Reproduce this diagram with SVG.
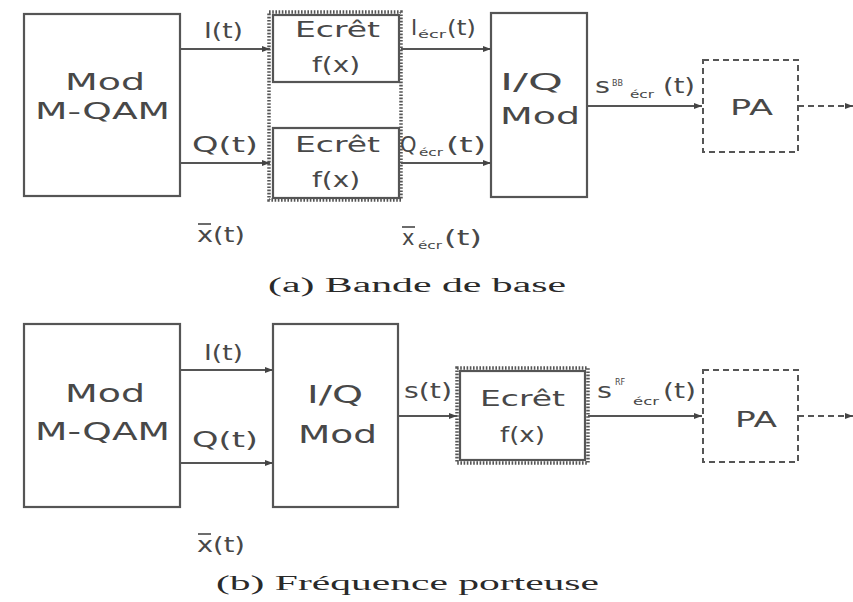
<svg xmlns="http://www.w3.org/2000/svg" width="853" height="602" viewBox="0 0 853 602">
<defs>
<marker id="ah" markerWidth="8" markerHeight="6" refX="8" refY="3" orient="auto" markerUnits="userSpaceOnUse">
<path d="M0,0 L8,3 L0,6 Z" fill="#444"/>
</marker>
<style>
.box{fill:#fff;stroke:#555;stroke-width:2.2}
.dot{fill:none;stroke:#555;stroke-width:3.5;stroke-dasharray:1.6 1.6}
.dash{fill:#fff;stroke:#555;stroke-width:2;stroke-dasharray:6 4}
.ln{fill:none;stroke:#555;stroke-width:1.8}
.dl{fill:none;stroke:#555;stroke-width:1.8;stroke-dasharray:6 4}
.t{font-family:"DejaVu Sans",sans-serif;fill:#484848}
.big{font-size:25px}
.tb{font-size:23.5px}
.mid{font-size:21px}
.lab{font-size:21px}
.sm{font-size:10px}
.cap{font-family:"Liberation Serif",serif;font-size:20px;fill:#2a2a2a}
</style>
</defs>
<rect width="853" height="602" fill="#fff"/>

<!-- (a) -->
<g id="a-mod">
<rect class="box" x="24" y="14" width="156" height="182"/>
<text class="t tb" x="65" y="90" textLength="80" lengthAdjust="spacingAndGlyphs">Mod</text>
<text class="t tb" x="35" y="119" textLength="135" lengthAdjust="spacingAndGlyphs">M-QAM</text>
</g>
<g id="a-ecret">
<rect class="dot" x="269" y="12" width="132" height="188"/>
<rect class="box" x="273" y="15" width="126" height="67"/>
<rect class="box" x="273" y="128" width="126" height="70"/>
<text class="t mid" x="295" y="37" textLength="85" lengthAdjust="spacingAndGlyphs">Ecrêt</text>
<text class="t mid" x="312" y="72" textLength="48" lengthAdjust="spacingAndGlyphs">f(x)</text>
<text class="t mid" x="295" y="152" textLength="85" lengthAdjust="spacingAndGlyphs">Ecrêt</text>
<text class="t mid" x="312" y="187" textLength="48" lengthAdjust="spacingAndGlyphs">f(x)</text>
</g>
<g id="a-iq">
<rect class="box" x="491" y="13" width="96" height="184"/>
<text class="t tb" x="500" y="90" textLength="63" lengthAdjust="spacingAndGlyphs">I/Q</text>
<text class="t tb" x="500" y="124" textLength="80" lengthAdjust="spacingAndGlyphs">Mod</text>
</g>
<g id="a-pa">
<rect class="dash" x="703" y="60" width="95" height="92"/>
<text class="t mid" x="730" y="115" textLength="43" lengthAdjust="spacingAndGlyphs">PA</text>
</g>

<!-- (b) -->
<g id="b-mod">
<rect class="box" x="24" y="324" width="156" height="183"/>
<text class="t big" x="65" y="402" textLength="80" lengthAdjust="spacingAndGlyphs">Mod</text>
<text class="t big" x="35" y="440" textLength="135" lengthAdjust="spacingAndGlyphs">M-QAM</text>
</g>
<g id="b-iq">
<rect class="box" x="273" y="324" width="125" height="183"/>
<text class="t big" x="307" y="403" textLength="56" lengthAdjust="spacingAndGlyphs">I/Q</text>
<text class="t big" x="298" y="443" textLength="79" lengthAdjust="spacingAndGlyphs">Mod</text>
</g>
<g id="b-ecret">
<rect class="dot" x="457" y="368" width="131" height="95"/>
<rect class="box" x="460" y="371" width="125" height="89"/>
<text class="t mid" x="480" y="406" textLength="85" lengthAdjust="spacingAndGlyphs">Ecrêt</text>
<text class="t mid" x="500" y="442" textLength="45" lengthAdjust="spacingAndGlyphs">f(x)</text>
</g>
<g id="b-pa">
<rect class="dash" x="703" y="370" width="95" height="92"/>
<text class="t mid" x="735" y="427" textLength="42" lengthAdjust="spacingAndGlyphs">PA</text>
</g>

<g id="connectors">
<line class="ln" x1="180" y1="49" x2="270" y2="49" marker-end="url(#ah)"/>
<line class="ln" x1="180" y1="163" x2="270" y2="163" marker-end="url(#ah)"/>
<line class="ln" x1="401" y1="49" x2="491" y2="49" marker-end="url(#ah)"/>
<line class="ln" x1="401" y1="163" x2="491" y2="163" marker-end="url(#ah)"/>
<line class="ln" x1="587" y1="106" x2="702" y2="106" marker-end="url(#ah)"/>
<line class="dl" x1="798" y1="106" x2="853" y2="106" marker-end="url(#ah)"/>

<line class="ln" x1="180" y1="370" x2="273" y2="370" marker-end="url(#ah)"/>
<line class="ln" x1="180" y1="463" x2="273" y2="463" marker-end="url(#ah)"/>
<line class="ln" x1="398" y1="416" x2="457" y2="416" marker-end="url(#ah)"/>
<line class="ln" x1="588" y1="416" x2="702" y2="416" marker-end="url(#ah)"/>
<line class="dl" x1="798" y1="416" x2="853" y2="416" marker-end="url(#ah)"/>
</g>

<g id="labels">
<text class="t lab" x="204" y="38" textLength="39" lengthAdjust="spacingAndGlyphs">I(t)</text>
<text class="t lab" x="192" y="152" textLength="66" lengthAdjust="spacingAndGlyphs">Q(t)</text>
<text class="t lab" x="197" y="242" textLength="48" lengthAdjust="spacingAndGlyphs">x(t)</text>
<line x1="198" y1="224" x2="211" y2="224" stroke="#484848" stroke-width="1.6"/>

<text class="t lab" x="411" y="35">I</text>
<text class="t sm" x="418" y="38" textLength="28" lengthAdjust="spacingAndGlyphs">écr</text>
<text class="t lab" x="447" y="35" textLength="29" lengthAdjust="spacingAndGlyphs">(t)</text>

<text class="t lab" x="400" y="152">Q</text>
<text class="t sm" x="419" y="156" textLength="24" lengthAdjust="spacingAndGlyphs">écr</text>
<text class="t lab" x="446" y="152" textLength="40" lengthAdjust="spacingAndGlyphs">(t)</text>

<text class="t lab" x="402" y="245">x</text>
<line x1="402" y1="227" x2="415" y2="227" stroke="#484848" stroke-width="1.6"/>
<text class="t sm" x="418" y="249" textLength="24" lengthAdjust="spacingAndGlyphs">écr</text>
<text class="t lab" x="444" y="245" textLength="38" lengthAdjust="spacingAndGlyphs">(t)</text>

<text class="t lab" x="595" y="93" textLength="15" lengthAdjust="spacingAndGlyphs">s</text>
<text class="t" font-size="8" x="612" y="86">BB</text>
<text class="t sm" x="630" y="98" textLength="24" lengthAdjust="spacingAndGlyphs">écr</text>
<text class="t lab" x="663" y="93" textLength="32" lengthAdjust="spacingAndGlyphs">(t)</text>

<text class="t lab" x="204" y="360" textLength="39" lengthAdjust="spacingAndGlyphs">I(t)</text>
<text class="t lab" x="192" y="447" textLength="66" lengthAdjust="spacingAndGlyphs">Q(t)</text>
<text class="t lab" x="197" y="552" textLength="48" lengthAdjust="spacingAndGlyphs">x(t)</text>
<line x1="198" y1="534" x2="211" y2="534" stroke="#484848" stroke-width="1.6"/>

<text class="t lab" x="404" y="398" textLength="48" lengthAdjust="spacingAndGlyphs">s(t)</text>

<text class="t lab" x="597" y="398" textLength="15" lengthAdjust="spacingAndGlyphs">s</text>
<text class="t" font-size="8" x="615" y="385">RF</text>
<text class="t sm" x="633" y="405" textLength="26" lengthAdjust="spacingAndGlyphs">écr</text>
<text class="t lab" x="663" y="398" textLength="33" lengthAdjust="spacingAndGlyphs">(t)</text>

<text class="cap" x="268" y="292" textLength="298" lengthAdjust="spacingAndGlyphs">(a) Bande de base</text>
<text class="cap" x="216" y="590" textLength="383" lengthAdjust="spacingAndGlyphs">(b) Fréquence porteuse</text>
</g>
</svg>
